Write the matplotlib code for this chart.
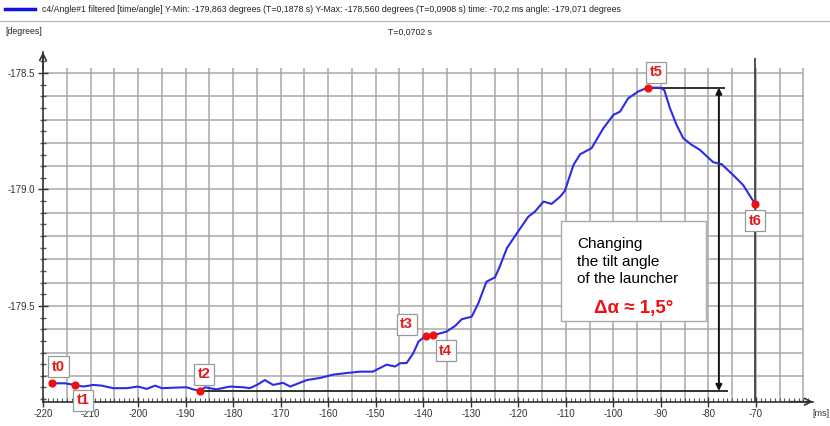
#!/usr/bin/env python3

import numpy as np
import matplotlib.pyplot as plt
from matplotlib.patches import Rectangle

plt.rcParams['font.family'] = ['Liberation Sans', 'DejaVu Sans']
plt.rcParams['axes.unicode_minus'] = False

# angle curve (time in ms, angle in degrees)
time_ms = [-218.2, -215.4, -213.3, -211.5, -209.4, -207.7, -205.2, -202.4, -200.0,
           -198.2, -196.4, -195.0, -192.6, -189.8, -188.4, -187.0, -185.9, -184.9,
           -183.5, -180.7, -177.9, -176.5, -175.0, -173.3, -171.6, -169.5, -168.0,
           -164.5, -161.7, -159.0, -156.1, -153.3, -150.6, -147.7, -145.9, -144.9,
           -143.5, -142.1, -141.0, -139.4, -137.9, -135.1, -133.3, -131.9, -129.8,
           -128.4, -126.7, -124.9, -123.9, -122.4, -120.3, -117.9, -116.5, -114.7,
           -113.0, -111.2, -110.2, -108.4, -107.0, -104.6, -102.1, -100.0, -98.6,
           -96.9, -94.8, -92.8, -90.2, -89.3, -88.1, -86.7, -85.3, -83.5, -81.8,
           -79.0, -77.2, -74.8, -72.7, -70.2]
angle_deg = [-179.832, -179.832, -179.839, -179.846, -179.839, -179.842, -179.853,
             -179.853, -179.846, -179.856, -179.842, -179.853, -179.851, -179.849,
             -179.858, -179.865, -179.849, -179.853, -179.858, -179.846, -179.849,
             -179.853, -179.839, -179.818, -179.839, -179.830, -179.846, -179.818,
             -179.809, -179.795, -179.788, -179.782, -179.782, -179.752, -179.760,
             -179.746, -179.745, -179.703, -179.653, -179.627, -179.626, -179.610,
             -179.586, -179.557, -179.546, -179.488, -179.396, -179.377, -179.331,
             -179.252, -179.188, -179.117, -179.095, -179.052, -179.062, -179.031,
             -179.006, -178.895, -178.849, -178.823, -178.737, -178.680, -178.666,
             -178.609, -178.580, -178.563, -178.563, -178.573, -178.651, -178.723,
             -178.780, -178.809, -178.830, -178.883, -178.892, -178.938, -178.981,
             -179.062]

marker_labels = ['t0', 't1', 't2', 't3', 't4', 't5', 't6']
marker_time = [-218.2, -213.3, -187.0, -139.4, -137.9, -92.8, -70.2]
marker_angle = [-179.832, -179.839, -179.865, -179.627, -179.626, -178.563, -179.062]
# label offsets in points (dx, dy)
label_offsets = [(5, 12), (6, -11), (3, 12), (-14, 8), (9, -11), (6, 11), (0, -12)]

x_ticks = list(range(-220, -69, 10))
y_ticks = [-179.5, -179.0, -178.5]

header = ('c4/Angle#1 filtered [time/angle] Y-Min: -179,863 degrees (T=0,1878 s) '
          'Y-Max: -178,560 degrees (T=0,0908 s) time: -70,2 ms angle: -179,071 degrees')


def main():
    fig = plt.figure(figsize=(8.3, 4.26), dpi=100)
    ax = fig.add_axes([43 / 830, (426 - 401.7) / 426, 770 / 830, 349.7 / 426])
    xmin, xmax = -220, -58.0
    ymin, ymax = -179.911, -178.41
    ax.set_xlim(xmin, xmax)
    ax.set_ylim(ymin, ymax)

    # grid, limited like in the original viewer
    grid_c = '#a8a8a8'
    ax.vlines(np.arange(-215, -59, 5), ymin, -178.479, color=grid_c, lw=1.1, zorder=1)
    ax.hlines(np.arange(-178.5, -179.85, -0.1), xmin, -60, color=grid_c, lw=1.1, zorder=1)

    # cursor line at t6
    ax.vlines(marker_time[-1], ymin, -178.436, color='#333333', lw=1.2, zorder=2)

    # curve
    ax.plot(time_ms, angle_deg, color='#2b2be8', lw=1.5, zorder=4,
            solid_joinstyle='round')

    # delta measurement lines
    x_arrow = -77.8
    ax.hlines(marker_angle[2], marker_time[2], -75.9, color='#222222', lw=1.3, zorder=3)
    ax.hlines(marker_angle[5], marker_time[5], -76.5, color='#222222', lw=1.3, zorder=3)
    ax.annotate('', xy=(x_arrow, marker_angle[5]), xytext=(x_arrow, marker_angle[2]),
                arrowprops=dict(arrowstyle='<|-|>', color='#111111', lw=1.4,
                                mutation_scale=9, shrinkA=0, shrinkB=0), zorder=3)

    # markers and labels
    ax.scatter(marker_time, marker_angle, s=24, color='#ee1111', zorder=5)
    for lab, t, a, off in zip(marker_labels, marker_time, marker_angle, label_offsets):
        ax.annotate(lab, (t, a), xytext=off, textcoords='offset points',
                    ha='center', va='center', color='#e81818', fontsize=10.5,
                    fontweight='bold', zorder=6,
                    bbox=dict(boxstyle='square,pad=0.25', fc='white', ec='#999999', lw=0.9))

    # text box
    ax.add_patch(Rectangle((-111.0, -179.563), 30.4, 0.429, fc='white', ec='#aaaaaa',
                           lw=1.0, zorder=6))
    ax.text(-107.6, -179.205, 'Changing\nthe tilt angle\nof the launcher', fontsize=11,
            va='top', ha='left', linespacing=1.3, color='black', zorder=7)
    ax.text(-95.8, -179.51, 'Δα ≈ 1,5°', fontsize=13.5, fontweight='bold',
            color='#ee1111', ha='center', va='center', zorder=7)

    # axes look
    for s in ['top', 'right']:
        ax.spines[s].set_visible(False)
    ax.spines['left'].set_color('#333333')
    ax.spines['bottom'].set_color('#333333')
    ax.spines['left'].set_linewidth(1.2)
    ax.spines['bottom'].set_linewidth(1.2)
    ax.annotate('', xy=(1.0, 0), xytext=(0.97, 0), xycoords='axes fraction',
                arrowprops=dict(arrowstyle='->', color='#333333', lw=1.2,
                                shrinkA=0, shrinkB=0, mutation_scale=12))
    ax.annotate('', xy=(0, 1.0), xytext=(0, 0.95), xycoords='axes fraction',
                arrowprops=dict(arrowstyle='->', color='#333333', lw=1.2,
                                shrinkA=0, shrinkB=0, mutation_scale=12))

    ax.set_xticks(x_ticks)
    ax.set_xticks(np.arange(-220, -58, 1), minor=True)
    ax.set_yticks(y_ticks)
    ax.set_yticklabels(['%.1f' % v for v in y_ticks])
    ax.set_yticks(np.arange(-179.9, -178.4, 0.05), minor=True)
    ax.tick_params(axis='x', which='major', direction='inout', length=7, width=1,
                   labelsize=7, colors='#333333', pad=2)
    ax.tick_params(axis='x', which='minor', direction='in', length=3, width=0.8,
                   colors='#555555')
    ax.tick_params(axis='y', which='major', direction='inout', length=7, width=1,
                   labelsize=7, colors='#333333', pad=2)
    ax.tick_params(axis='y', which='minor', direction='inout', length=4, width=1,
                   colors='#555555')

    # header
    fig.add_artist(plt.Line2D([5 / 830, 35 / 830], [1 - 9 / 426, 1 - 9 / 426],
                              color='#1010e0', lw=2.5))
    fig.text(42 / 830, 1 - 10 / 426, header, fontsize=6.3, va='center', color='#222222')
    fig.add_artist(plt.Line2D([0, 1], [1 - 21 / 426, 1 - 21 / 426], color='#bbbbbb', lw=1))
    fig.text(5 / 830, 1 - 32 / 426, '[degrees]', fontsize=6.3, va='center', color='#222222')
    fig.text(410 / 830, 1 - 32 / 426, 'T=0,0702 s', fontsize=6.3, va='center',
             ha='center', color='#222222')
    fig.text(812 / 830, 1 - 414 / 426, '[ms]', fontsize=6.5, va='center', color='#333333')

    fig.savefig('out.png', dpi=100)


if __name__ == "__main__":
    main()
